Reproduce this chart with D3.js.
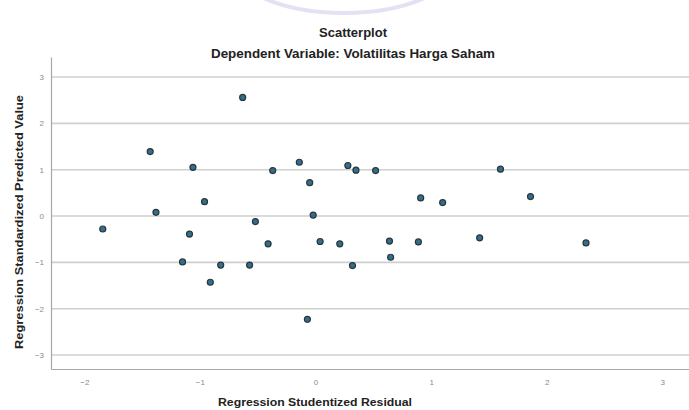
<!DOCTYPE html>
<html>
<head>
<meta charset="utf-8">
<script src="https://cdn.jsdelivr.net/npm/d3@7"></script>
<style>
  body { margin: 0; background: #fff; }
  svg { display: block; font-family: "Liberation Sans", Arial, sans-serif; }
</style>
</head>
<body>
<svg id="chart"></svg>
<script>
// residuals (x) and predicted values (y)
const residuals = [-1.84, -1.43, -1.38, -1.06, -1.09, -1.15, -0.96, -0.91, -0.82, -0.63, -0.57,
  -0.52, -0.41, -0.37, -0.14, -0.05, -0.07, -0.02, 0.04, 0.21, 0.28, 0.35, 0.32, 0.52,
  0.64, 0.65, 0.91, 0.89, 1.10, 1.42, 1.60, 1.86, 2.34];
const predicted = [-0.28, 1.39, 0.08, 1.05, -0.39, -0.99, 0.31, -1.43, -1.06, 2.56, -1.06,
  -0.12, -0.60, 0.98, 1.16, 0.72, -2.23, 0.02, -0.55, -0.60, 1.09, 0.99, -1.07, 0.98,
  -0.54, -0.89, 0.39, -0.56, 0.29, -0.47, 1.01, 0.42, -0.58];
const xTicks = [-2, -1, 0, 1, 2, 3];
const yTicks = [-3, -2, -1, 0, 1, 2, 3];

const width = 689, height = 410;
const margin = { top: 57, right: 0, bottom: 41, left: 51 };

const svg = d3.select("#chart")
  .attr("width", width)
  .attr("height", height);

// faint watermark arc at the top of the scan
svg.append("ellipse")
  .attr("cx", 344).attr("cy", -45)
  .attr("rx", 120).attr("ry", 58)
  .attr("fill", "none")
  .attr("stroke", "#e2e2f4")
  .attr("stroke-width", 4);

const xScale = d3.scaleLinear()
  .domain([-2.288, 3.231])
  .range([margin.left, width - margin.right]);

const yScale = d3.scaleLinear()
  .domain([-3.302, 3.432])
  .range([height - margin.bottom, margin.top]);

// horizontal gridlines
svg.append("g")
  .selectAll("line")
  .data(yTicks)
  .join("line")
  .attr("x1", margin.left)
  .attr("x2", width - margin.right)
  .attr("y1", d => yScale(d))
  .attr("y2", d => yScale(d))
  .attr("stroke", "#cfcfcf")
  .attr("stroke-width", 1.6);

const xAxis = d3.axisBottom(xScale).tickValues(xTicks).tickSize(0).tickPadding(10).tickFormat(d3.format("d"));
const yAxis = d3.axisLeft(yScale).tickValues(yTicks).tickSize(0).tickPadding(7).tickFormat(d3.format("d"));

const xAxisGroup = svg.append("g")
  .attr("transform", `translate(0,${height - margin.bottom})`)
  .call(xAxis);

const yAxisGroup = svg.append("g")
  .attr("transform", `translate(${margin.left},0)`)
  .call(yAxis);

[xAxisGroup, yAxisGroup].forEach(g => {
  g.select(".domain").attr("stroke", "#a8a8a8").attr("stroke-width", 1.2);
  g.selectAll("text")
    .attr("fill", "#8a8a8a")
    .attr("font-size", 8)
    .attr("font-family", "Liberation Sans, Arial, sans-serif");
});

// points
svg.append("g")
  .selectAll("circle")
  .data(residuals.map((r, i) => [r, predicted[i]]))
  .join("circle")
  .attr("cx", d => xScale(d[0]))
  .attr("cy", d => yScale(d[1]))
  .attr("r", 3)
  .attr("fill", "#2f7090")
  .attr("stroke", "#2e3438")
  .attr("stroke-width", 1.2);

// titles (stretched a little to the widths seen in the scan)
const label = (text, size, len) => svg.append("text")
  .attr("text-anchor", "middle")
  .attr("font-size", size).attr("font-weight", "bold")
  .attr("fill", "#222")
  .attr("textLength", len)
  .attr("lengthAdjust", "spacingAndGlyphs")
  .text(text);

label("Scatterplot", 12, 68).attr("x", 353).attr("y", 37);
label("Dependent Variable: Volatilitas Harga Saham", 12.5, 284).attr("x", 353).attr("y", 58);
label("Regression Studentized Residual", 11.5, 194).attr("x", 315).attr("y", 406);
label("Regression Standardized Predicted Value", 11.5, 254)
  .attr("transform", "translate(23,222) rotate(-90)");
</script>
</body>
</html>
